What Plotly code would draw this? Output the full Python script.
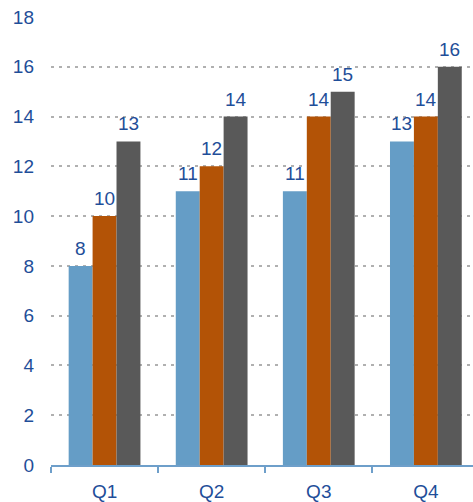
import plotly.graph_objects as go

# Quarterly values for three series
quarters = ["Q1", "Q2", "Q3", "Q4"]
series_a = [8, 11, 11, 13]
series_b = [10, 12, 14, 14]
series_c = [13, 14, 15, 16]
y_ticks = [0, 2, 4, 6, 8, 10, 12, 14, 16, 18]

colors = ["#659dc6", "#b35306", "#595959"]
text_color = "#1f4e99"
axis_color = "#6e9fca"
font_family = "Liberation Sans, Arial, sans-serif"

fig = go.Figure()
all_series = [series_a, series_b, series_c]
for i, (vals, col) in enumerate(zip(all_series, colors)):
    fig.add_trace(go.Bar(
        x=quarters, y=vals,
        marker=dict(color=col, line=dict(width=0)),
        offsetgroup=str(i),
    ))

# Value labels above each bar
n = len(all_series)
bar_w = (1 - 0.33) / n
for i, vals in enumerate(all_series):
    offset = (i - (n - 1) / 2) * bar_w
    for j, v in enumerate(vals):
        fig.add_annotation(
            x=j + offset, y=v, text=str(v),
            xref="x", yref="y", showarrow=False,
            yanchor="bottom", yshift=5,
            font=dict(color=text_color, size=19, family=font_family),
        )

fig.update_layout(
    width=473, height=502,
    margin=dict(l=51, r=0, t=17, b=37),
    paper_bgcolor="white", plot_bgcolor="white",
    barmode="group", bargap=0.33, bargroupgap=0,
    showlegend=False,
    font=dict(family=font_family, color=text_color, size=19),
)
fig.update_xaxes(
    range=[-0.5, 3.44],
    showline=True, linecolor=axis_color, linewidth=2,
    ticks="outside", tickson="boundaries", ticklen=6, tickcolor=axis_color, tickwidth=2,
    showgrid=False, ticklabelstandoff=8,
    tickfont=dict(color=text_color, size=19),
)
fig.update_yaxes(
    range=[0, 18], tickvals=y_ticks,
    showgrid=True, gridcolor="#b0b0b0", griddash="3px,5px", gridwidth=2,
    zeroline=False, showline=False,
    ticks="", ticklabelstandoff=16,
    tickfont=dict(color=text_color, size=19),
)

fig.write_html("out.html")
